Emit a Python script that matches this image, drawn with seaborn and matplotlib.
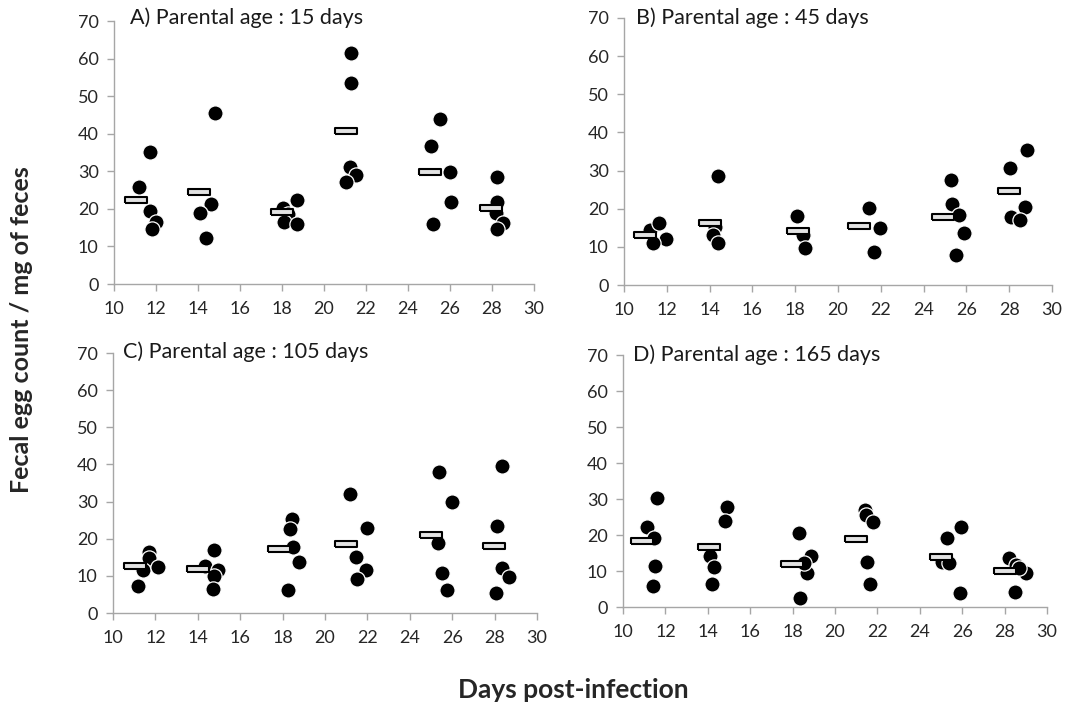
import numpy as np
import pandas as pd
import matplotlib
matplotlib.use("Agg")
import matplotlib.pyplot as plt
import seaborn as sns

# ------------------------------------------------------------------
# Data (day post-infection, eggs / mg feces)
# ------------------------------------------------------------------
days_A = [11.2, 11.7, 11.7, 12.0, 11.8, 14.8, 14.6, 14.1, 14.4,
          18.05, 18.7, 18.3, 18.1, 18.7, 21.3, 21.3, 21.25, 21.5, 21.05,
          25.5, 25.1, 26.0, 26.05, 25.2, 28.25, 28.25, 28.2, 28.5, 28.25]
egg_A = [25.8, 35.1, 19.4, 16.5, 14.6, 45.5, 21.2, 18.9, 12.2,
         20.2, 22.4, 18.6, 16.5, 16.0, 61.5, 53.5, 31.1, 29.0, 27.2,
         43.9, 36.7, 29.8, 21.8, 16.0, 28.5, 21.8, 19.0, 16.2, 14.6]
mean_day_A = [11.05, 14.05, 18.0, 21.05, 25.05, 27.95]
mean_A = [22.4, 24.5, 19.2, 40.7, 29.8, 20.2]

days_B = [11.2, 11.65, 11.95, 11.35, 14.4, 14.25, 14.15, 14.4,
          18.1, 18.35, 18.45, 21.45, 21.95, 21.7,
          25.3, 25.35, 25.65, 25.9, 25.5, 28.85, 28.05, 28.75, 28.1, 28.5]
egg_B = [14.4, 16.3, 12.0, 11.0, 28.6, 15.3, 13.1, 11.0,
         18.1, 13.1, 9.7, 20.2, 14.9, 8.7,
         27.5, 21.2, 18.4, 13.6, 7.9, 35.4, 30.7, 20.4, 17.9, 17.0]
mean_day_B = [11.0, 14.0, 18.15, 21.0, 24.9, 28.0]
mean_B = [13.2, 16.2, 14.2, 15.5, 17.9, 24.6]

days_C = [11.2, 11.7, 11.7, 11.4, 12.1, 14.75, 14.35, 14.95, 14.75, 14.7,
          18.45, 18.35, 18.5, 18.75, 18.25, 21.2, 22.0, 21.45, 21.95, 21.5,
          25.4, 26.0, 25.35, 25.5, 25.75, 28.35, 28.1, 28.35, 28.7, 28.05]
egg_C = [7.3, 16.4, 14.8, 11.6, 12.4, 17.0, 12.7, 11.6, 10.0, 6.5,
         25.3, 22.6, 17.8, 13.7, 6.2, 32.0, 22.9, 15.1, 11.6, 9.2,
         37.9, 29.9, 18.8, 10.8, 6.2, 39.6, 23.4, 12.1, 9.7, 5.4]
mean_day_C = [11.05, 14.0, 17.85, 21.0, 25.0, 27.95]
mean_C = [12.7, 11.8, 17.2, 18.6, 21.0, 18.0]

days_D = [11.6, 11.15, 11.45, 11.5, 11.4, 14.9, 14.8, 14.1, 14.3, 14.2,
          18.3, 18.85, 18.7, 18.35, 18.55, 21.4, 21.45, 21.8, 21.5, 21.65,
          25.95, 25.3, 25.05, 25.4, 25.9, 28.2, 28.55, 29.0, 28.5, 28.7]
egg_D = [30.3, 22.2, 19.2, 11.4, 5.8, 27.8, 23.9, 14.2, 11.2, 6.4,
         20.5, 14.2, 9.4, 2.4, 12.2, 26.9, 25.6, 23.6, 12.5, 6.4,
         22.2, 19.2, 12.4, 12.2, 3.9, 13.6, 11.8, 9.4, 4.2, 10.8]
mean_day_D = [10.9, 14.05, 17.95, 21.0, 25.0, 28.0]
mean_D = [18.3, 16.7, 12.0, 18.9, 13.9, 10.0]

panel_titles = ["A) Parental age : 15 days", "B) Parental age : 45 days",
                "C) Parental age : 105 days", "D) Parental age : 165 days"]

# ------------------------------------------------------------------
# Style
# ------------------------------------------------------------------
sns.set_style("ticks")
plt.rcParams["font.family"] = ["Lato", "DejaVu Sans"]

W, H = 1067, 709
AXIS_GREY = "#a6a6a6"

fig = plt.figure(figsize=(W / 100, H / 100), dpi=100)

def px_axes(left, right, top, bottom):
    return fig.add_axes([left / W, 1 - bottom / H, (right - left) / W, (bottom - top) / H])

# pixel boxes of each panel (left, right, top, bottom)
boxes = [(114, 534, 21, 284), (624, 1052, 18, 285),
         (113, 537, 353, 613), (623, 1047, 355, 607)]
title_pos = [(130, 18), (636, 18), (123, 352), (633, 355)]

# wide flat rectangle used for the mean marks
bar_marker = [(-1, -0.25), (1, -0.25), (1, 0.25), (-1, 0.25), (-1, -0.25)]

panels = [(days_A, egg_A, mean_day_A, mean_A),
          (days_B, egg_B, mean_day_B, mean_B),
          (days_C, egg_C, mean_day_C, mean_C),
          (days_D, egg_D, mean_day_D, mean_D)]

for i, (days, eggs, mday, mval) in enumerate(panels):
    ax = px_axes(*boxes[i])
    pts = pd.DataFrame({"day": days, "egg": eggs})
    means = pd.DataFrame({"day": mday, "egg": mval})

    sns.scatterplot(data=pts, x="day", y="egg", ax=ax, color="black", s=120,
                    edgecolor="white", linewidth=0.9, zorder=3, clip_on=False)
    sns.scatterplot(data=means, x="day", y="egg", ax=ax, marker=bar_marker,
                    s=260, color="#e2e2e2", edgecolor="black", linewidth=1.5,
                    zorder=4, clip_on=False)

    ax.set_xlim(10, 30)
    ax.set_ylim(0, 70)
    ax.set_xticks(np.arange(10, 31, 2))
    ax.set_yticks(np.arange(0, 71, 10))
    ax.set_xlabel("")
    ax.set_ylabel("")
    sns.despine(ax=ax)
    for sp in ("left", "bottom"):
        ax.spines[sp].set_color(AXIS_GREY)
        ax.spines[sp].set_linewidth(1.0)
    ax.tick_params(axis="both", direction="out", length=5, width=1.0,
                   color=AXIS_GREY, labelsize=13, labelcolor="#262626")
    ax.tick_params(axis="x", pad=7)
    ax.tick_params(axis="y", pad=6)

    tx, ty = title_pos[i]
    fig.text(tx / W, 1 - ty / H, panel_titles[i], fontsize=15.5,
             color="#1a1a1a", ha="left", va="center")

fig.text(22 / W, 1 - 330 / H, "Fecal egg count / mg of feces", rotation=90,
         fontsize=18, fontweight="bold", ha="center", va="center")
fig.text(573 / W, 1 - 690 / H, "Days post-infection",
         fontsize=19, fontweight="bold", ha="center", va="center")

fig.savefig("out.png", dpi=100, facecolor="white")
